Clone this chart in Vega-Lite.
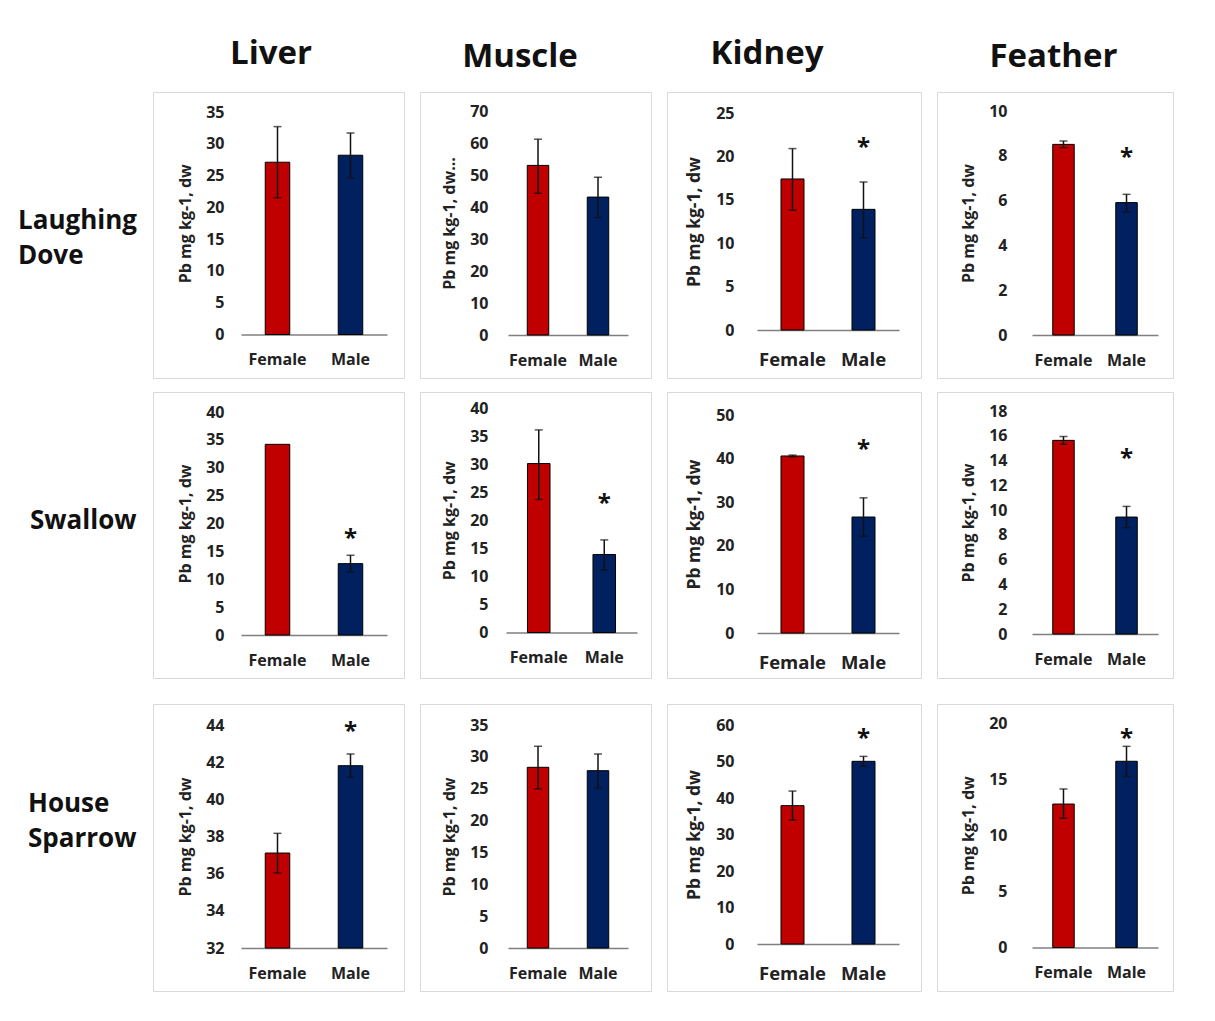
{
"$schema": "https://vega.github.io/schema/vega-lite/v6.json",
"background": "white",
"padding": {"left": 18, "top": 37, "right": 10, "bottom": 10},
"data": {"values": [
{"bird": "Laughing Dove", "tissue": "Liver", "sex": "Female", "mean": 27.1, "lo": 21.5, "hi": 32.7, "star": null},
{"bird": "Laughing Dove", "tissue": "Liver", "sex": "Male", "mean": 28.2, "lo": 24.6, "hi": 31.7, "star": null},
{"bird": "Laughing Dove", "tissue": "Muscle", "sex": "Female", "mean": 53.0, "lo": 44.3, "hi": 61.2, "star": null},
{"bird": "Laughing Dove", "tissue": "Muscle", "sex": "Male", "mean": 43.1, "lo": 36.7, "hi": 49.3, "star": null},
{"bird": "Laughing Dove", "tissue": "Kidney", "sex": "Female", "mean": 17.4, "lo": 13.8, "hi": 20.9, "star": null},
{"bird": "Laughing Dove", "tissue": "Kidney", "sex": "Male", "mean": 13.9, "lo": 10.6, "hi": 17.05, "star": 20.2},
{"bird": "Laughing Dove", "tissue": "Feather", "sex": "Female", "mean": 8.51, "lo": 8.36, "hi": 8.66, "star": null},
{"bird": "Laughing Dove", "tissue": "Feather", "sex": "Male", "mean": 5.91, "lo": 5.49, "hi": 6.28, "star": 7.59},
{"bird": "Swallow", "tissue": "Liver", "sex": "Female", "mean": 34.2, "lo": null, "hi": null, "star": null},
{"bird": "Swallow", "tissue": "Liver", "sex": "Male", "mean": 12.8, "lo": 11.3, "hi": 14.3, "star": 15.96},
{"bird": "Swallow", "tissue": "Muscle", "sex": "Female", "mean": 30.1, "lo": 23.7, "hi": 36.1, "star": null},
{"bird": "Swallow", "tissue": "Muscle", "sex": "Male", "mean": 13.9, "lo": 11.1, "hi": 16.5, "star": 21.65},
{"bird": "Swallow", "tissue": "Kidney", "sex": "Female", "mean": 40.6, "lo": 40.4, "hi": 40.8, "star": null},
{"bird": "Swallow", "tissue": "Kidney", "sex": "Male", "mean": 26.6, "lo": 22.2, "hi": 31.0, "star": 40.4},
{"bird": "Swallow", "tissue": "Feather", "sex": "Female", "mean": 15.63, "lo": 15.31, "hi": 15.95, "star": null},
{"bird": "Swallow", "tissue": "Feather", "sex": "Male", "mean": 9.44, "lo": 8.58, "hi": 10.3, "star": 13.56},
{"bird": "House Sparrow", "tissue": "Liver", "sex": "Female", "mean": 37.11, "lo": 36.04, "hi": 38.17, "star": null},
{"bird": "House Sparrow", "tissue": "Liver", "sex": "Male", "mean": 41.81, "lo": 41.19, "hi": 42.44, "star": 43.22},
{"bird": "House Sparrow", "tissue": "Muscle", "sex": "Female", "mean": 28.36, "lo": 24.96, "hi": 31.66, "star": null},
{"bird": "House Sparrow", "tissue": "Muscle", "sex": "Male", "mean": 27.83, "lo": 25.07, "hi": 30.45, "star": null},
{"bird": "House Sparrow", "tissue": "Kidney", "sex": "Female", "mean": 37.9, "lo": 33.97, "hi": 41.9, "star": null},
{"bird": "House Sparrow", "tissue": "Kidney", "sex": "Male", "mean": 50.05, "lo": 48.7, "hi": 51.4, "star": 54.25},
{"bird": "House Sparrow", "tissue": "Feather", "sex": "Female", "mean": 12.78, "lo": 11.51, "hi": 14.12, "star": null},
{"bird": "House Sparrow", "tissue": "Feather", "sex": "Male", "mean": 16.59, "lo": 15.25, "hi": 17.92, "star": 17.95}
]},
"spacing": 24,
"vconcat": [
{"spacing": 12, "vconcat": [
{"hconcat": [
{"width": 119, "height": 286, "view": {"stroke": null}, "data": {"values": [{"label": "Laughing Dove"}]},
 "mark": {"type": "text", "align": "left", "baseline": "middle", "fontSize": 26, "fontWeight": "bold", "lineBreak": " ", "lineHeight": 35, "color": "#111"},
 "encoding": {"text": {"field": "label"}, "x": {"datum": 0, "scale": {"domain": [0, 1]}, "axis": null}, "y": {"datum": 0.549, "scale": {"domain": [0, 1]}, "axis": null}}},
{"width": 251, "height": 286, "title": {"text": "Liver", "dx": -7.5},
 "transform": [{"filter": "datum.bird === 'Laughing Dove' && datum.tissue === 'Liver'"}],
 "encoding": {"x": {"field": "sex", "type": "nominal", "scale": {"domain": ["Female", "Male"], "range": [88, 234], "paddingInner": 0.664, "paddingOuter": 0.332, "round": false}, "axis": {"title": null, "offset": -43.5, "labelPadding": 17, "labelFontSize": 16}}},
 "layer": [
  {"mark": {"type": "bar", "stroke": "#000", "strokeWidth": 1}, "encoding": {"y": {"field": "mean", "type": "quantitative", "scale": {"domain": [0, 35], "range": [242.5, 20], "nice": false, "zero": false}, "axis": {"title": "Pb mg kg-1, dw", "values": [0, 5, 10, 15, 20, 25, 30, 35], "tickCount": 30, "format": "d", "offset": -75, "labelOverlap": false}}, "y2": {"datum": 0}, "color": {"field": "sex", "type": "nominal", "scale": {"domain": ["Female", "Male"], "range": ["#C00000", "#002060"]}, "legend": null}}},
  {"transform": [{"filter": "isValid(datum.lo)"}], "mark": {"type": "errorbar", "color": "#111", "thickness": 1.5, "ticks": {"size": 8}}, "encoding": {"y": {"field": "lo", "type": "quantitative", "title": "Pb mg kg-1, dw"}, "y2": {"field": "hi"}}},
  {"transform": [{"filter": "isValid(datum.star)"}], "mark": {"type": "text", "text": "*", "fontSize": 24, "fontWeight": "bold", "baseline": "alphabetic", "color": "#111"}, "encoding": {"y": {"field": "star", "type": "quantitative", "title": "Pb mg kg-1, dw"}}}
 ]},
{"width": 231, "height": 286, "title": {"text": "Muscle", "dx": -15.5, "dy": 3},
 "transform": [{"filter": "datum.bird === 'Laughing Dove' && datum.tissue === 'Muscle'"}],
 "encoding": {"x": {"field": "sex", "type": "nominal", "scale": {"domain": ["Female", "Male"], "range": [88, 208], "paddingInner": 0.642, "paddingOuter": 0.321, "round": false}, "axis": {"title": null, "offset": -43, "labelPadding": 17, "labelFontSize": 16}}},
 "layer": [
  {"mark": {"type": "bar", "stroke": "#000", "strokeWidth": 1}, "encoding": {"y": {"field": "mean", "type": "quantitative", "scale": {"domain": [0, 70], "range": [243, 19], "nice": false, "zero": false}, "axis": {"title": "Pb mg kg-1, dw...", "values": [0, 10, 20, 30, 40, 50, 60, 70], "tickCount": 30, "format": "d", "offset": -72, "labelOverlap": false}}, "y2": {"datum": 0}, "color": {"field": "sex", "type": "nominal", "scale": {"domain": ["Female", "Male"], "range": ["#C00000", "#002060"]}, "legend": null}}},
  {"transform": [{"filter": "isValid(datum.lo)"}], "mark": {"type": "errorbar", "color": "#111", "thickness": 1.5, "ticks": {"size": 8}}, "encoding": {"y": {"field": "lo", "type": "quantitative", "title": "Pb mg kg-1, dw..."}, "y2": {"field": "hi"}}},
  {"transform": [{"filter": "isValid(datum.star)"}], "mark": {"type": "text", "text": "*", "fontSize": 24, "fontWeight": "bold", "baseline": "alphabetic", "color": "#111"}, "encoding": {"y": {"field": "star", "type": "quantitative", "title": "Pb mg kg-1, dw..."}}}
 ]},
{"width": 254, "height": 286, "title": {"text": "Kidney", "dx": -27},
 "transform": [{"filter": "datum.bird === 'Laughing Dove' && datum.tissue === 'Kidney'"}],
 "encoding": {"x": {"field": "sex", "type": "nominal", "scale": {"domain": ["Female", "Male"], "range": [90, 232], "paddingInner": 0.676, "paddingOuter": 0.338, "round": false}, "axis": {"title": null, "offset": -48, "labelPadding": 20, "labelFontSize": 18.5}}},
 "layer": [
  {"mark": {"type": "bar", "stroke": "#000", "strokeWidth": 1}, "encoding": {"y": {"field": "mean", "type": "quantitative", "scale": {"domain": [0, 25], "range": [238, 21], "nice": false, "zero": false}, "axis": {"title": "Pb mg kg-1, dw", "titleFontSize": 17.5, "values": [0, 5, 10, 15, 20, 25], "tickCount": 30, "format": "d", "offset": -71, "labelOverlap": false}}, "y2": {"datum": 0}, "color": {"field": "sex", "type": "nominal", "scale": {"domain": ["Female", "Male"], "range": ["#C00000", "#002060"]}, "legend": null}}},
  {"transform": [{"filter": "isValid(datum.lo)"}], "mark": {"type": "errorbar", "color": "#111", "thickness": 1.5, "ticks": {"size": 8}}, "encoding": {"y": {"field": "lo", "type": "quantitative", "title": "Pb mg kg-1, dw"}, "y2": {"field": "hi"}}},
  {"transform": [{"filter": "isValid(datum.star)"}], "mark": {"type": "text", "text": "*", "fontSize": 24, "fontWeight": "bold", "baseline": "alphabetic", "color": "#111"}, "encoding": {"y": {"field": "star", "type": "quantitative", "title": "Pb mg kg-1, dw"}}}
 ]},
{"width": 236, "height": 286, "title": {"text": "Feather", "dx": -1.5, "dy": 3},
 "transform": [{"filter": "datum.bird === 'Laughing Dove' && datum.tissue === 'Feather'"}],
 "encoding": {"x": {"field": "sex", "type": "nominal", "scale": {"domain": ["Female", "Male"], "range": [95, 221], "paddingInner": 0.659, "paddingOuter": 0.329, "round": false}, "axis": {"title": null, "offset": -43, "labelPadding": 17, "labelFontSize": 16}}},
 "layer": [
  {"mark": {"type": "bar", "stroke": "#000", "strokeWidth": 1}, "encoding": {"y": {"field": "mean", "type": "quantitative", "scale": {"domain": [0, 10], "range": [243, 19], "nice": false, "zero": false}, "axis": {"title": "Pb mg kg-1, dw", "values": [0, 2, 4, 6, 8, 10], "tickCount": 30, "format": "d", "offset": -74, "labelOverlap": false}}, "y2": {"datum": 0}, "color": {"field": "sex", "type": "nominal", "scale": {"domain": ["Female", "Male"], "range": ["#C00000", "#002060"]}, "legend": null}}},
  {"transform": [{"filter": "isValid(datum.lo)"}], "mark": {"type": "errorbar", "color": "#111", "thickness": 1.5, "ticks": {"size": 8}}, "encoding": {"y": {"field": "lo", "type": "quantitative", "title": "Pb mg kg-1, dw"}, "y2": {"field": "hi"}}},
  {"transform": [{"filter": "isValid(datum.star)"}], "mark": {"type": "text", "text": "*", "fontSize": 24, "fontWeight": "bold", "baseline": "alphabetic", "color": "#111"}, "encoding": {"y": {"field": "star", "type": "quantitative", "title": "Pb mg kg-1, dw"}}}
 ]}
], "spacing": 16, "bounds": "flush"},
{"hconcat": [
{"width": 119, "height": 286, "view": {"stroke": null}, "data": {"values": [{"label": "Swallow"}]},
 "mark": {"type": "text", "align": "left", "baseline": "middle", "fontSize": 26, "fontWeight": "bold", "lineBreak": " ", "lineHeight": 35, "color": "#111"},
 "encoding": {"text": {"field": "label"}, "x": {"datum": 0.101, "scale": {"domain": [0, 1]}, "axis": null}, "y": {"datum": 0.549, "scale": {"domain": [0, 1]}, "axis": null}}},
{"width": 251, "height": 286,
 "transform": [{"filter": "datum.bird === 'Swallow' && datum.tissue === 'Liver'"}],
 "encoding": {"x": {"field": "sex", "type": "nominal", "scale": {"domain": ["Female", "Male"], "range": [88, 234], "paddingInner": 0.664, "paddingOuter": 0.332, "round": false}, "axis": {"title": null, "offset": -43, "labelPadding": 17, "labelFontSize": 16}}},
 "layer": [
  {"mark": {"type": "bar", "stroke": "#000", "strokeWidth": 1}, "encoding": {"y": {"field": "mean", "type": "quantitative", "scale": {"domain": [0, 40], "range": [243, 20], "nice": false, "zero": false}, "axis": {"title": "Pb mg kg-1, dw", "values": [0, 5, 10, 15, 20, 25, 30, 35, 40], "tickCount": 30, "format": "d", "offset": -75, "labelOverlap": false}}, "y2": {"datum": 0}, "color": {"field": "sex", "type": "nominal", "scale": {"domain": ["Female", "Male"], "range": ["#C00000", "#002060"]}, "legend": null}}},
  {"transform": [{"filter": "isValid(datum.lo)"}], "mark": {"type": "errorbar", "color": "#111", "thickness": 1.5, "ticks": {"size": 8}}, "encoding": {"y": {"field": "lo", "type": "quantitative", "title": "Pb mg kg-1, dw"}, "y2": {"field": "hi"}}},
  {"transform": [{"filter": "isValid(datum.star)"}], "mark": {"type": "text", "text": "*", "fontSize": 24, "fontWeight": "bold", "baseline": "alphabetic", "color": "#111"}, "encoding": {"y": {"field": "star", "type": "quantitative", "title": "Pb mg kg-1, dw"}}}
 ]},
{"width": 231, "height": 286,
 "transform": [{"filter": "datum.bird === 'Swallow' && datum.tissue === 'Muscle'"}],
 "encoding": {"x": {"field": "sex", "type": "nominal", "scale": {"domain": ["Female", "Male"], "range": [86, 217], "paddingInner": 0.656, "paddingOuter": 0.328, "round": false}, "axis": {"title": null, "offset": -45.5, "labelPadding": 17, "labelFontSize": 16}}},
 "layer": [
  {"mark": {"type": "bar", "stroke": "#000", "strokeWidth": 1}, "encoding": {"y": {"field": "mean", "type": "quantitative", "scale": {"domain": [0, 40], "range": [240.5, 16], "nice": false, "zero": false}, "axis": {"title": "Pb mg kg-1, dw", "values": [0, 5, 10, 15, 20, 25, 30, 35, 40], "tickCount": 30, "format": "d", "offset": -72, "labelOverlap": false}}, "y2": {"datum": 0}, "color": {"field": "sex", "type": "nominal", "scale": {"domain": ["Female", "Male"], "range": ["#C00000", "#002060"]}, "legend": null}}},
  {"transform": [{"filter": "isValid(datum.lo)"}], "mark": {"type": "errorbar", "color": "#111", "thickness": 1.5, "ticks": {"size": 8}}, "encoding": {"y": {"field": "lo", "type": "quantitative", "title": "Pb mg kg-1, dw"}, "y2": {"field": "hi"}}},
  {"transform": [{"filter": "isValid(datum.star)"}], "mark": {"type": "text", "text": "*", "fontSize": 24, "fontWeight": "bold", "baseline": "alphabetic", "color": "#111"}, "encoding": {"y": {"field": "star", "type": "quantitative", "title": "Pb mg kg-1, dw"}}}
 ]},
{"width": 254, "height": 286,
 "transform": [{"filter": "datum.bird === 'Swallow' && datum.tissue === 'Kidney'"}],
 "encoding": {"x": {"field": "sex", "type": "nominal", "scale": {"domain": ["Female", "Male"], "range": [90, 232], "paddingInner": 0.676, "paddingOuter": 0.338, "round": false}, "axis": {"title": null, "offset": -45, "labelPadding": 20, "labelFontSize": 18.5}}},
 "layer": [
  {"mark": {"type": "bar", "stroke": "#000", "strokeWidth": 1}, "encoding": {"y": {"field": "mean", "type": "quantitative", "scale": {"domain": [0, 50], "range": [241, 23], "nice": false, "zero": false}, "axis": {"title": "Pb mg kg-1, dw", "titleFontSize": 17.5, "values": [0, 10, 20, 30, 40, 50], "tickCount": 30, "format": "d", "offset": -71, "labelOverlap": false}}, "y2": {"datum": 0}, "color": {"field": "sex", "type": "nominal", "scale": {"domain": ["Female", "Male"], "range": ["#C00000", "#002060"]}, "legend": null}}},
  {"transform": [{"filter": "isValid(datum.lo)"}], "mark": {"type": "errorbar", "color": "#111", "thickness": 1.5, "ticks": {"size": 8}}, "encoding": {"y": {"field": "lo", "type": "quantitative", "title": "Pb mg kg-1, dw"}, "y2": {"field": "hi"}}},
  {"transform": [{"filter": "isValid(datum.star)"}], "mark": {"type": "text", "text": "*", "fontSize": 24, "fontWeight": "bold", "baseline": "alphabetic", "color": "#111"}, "encoding": {"y": {"field": "star", "type": "quantitative", "title": "Pb mg kg-1, dw"}}}
 ]},
{"width": 236, "height": 286,
 "transform": [{"filter": "datum.bird === 'Swallow' && datum.tissue === 'Feather'"}],
 "encoding": {"x": {"field": "sex", "type": "nominal", "scale": {"domain": ["Female", "Male"], "range": [95, 221], "paddingInner": 0.659, "paddingOuter": 0.329, "round": false}, "axis": {"title": null, "offset": -44, "labelPadding": 17, "labelFontSize": 16}}},
 "layer": [
  {"mark": {"type": "bar", "stroke": "#000", "strokeWidth": 1}, "encoding": {"y": {"field": "mean", "type": "quantitative", "scale": {"domain": [0, 18], "range": [242, 19], "nice": false, "zero": false}, "axis": {"title": "Pb mg kg-1, dw", "values": [0, 2, 4, 6, 8, 10, 12, 14, 16, 18], "tickCount": 30, "format": "d", "offset": -74, "labelOverlap": false}}, "y2": {"datum": 0}, "color": {"field": "sex", "type": "nominal", "scale": {"domain": ["Female", "Male"], "range": ["#C00000", "#002060"]}, "legend": null}}},
  {"transform": [{"filter": "isValid(datum.lo)"}], "mark": {"type": "errorbar", "color": "#111", "thickness": 1.5, "ticks": {"size": 8}}, "encoding": {"y": {"field": "lo", "type": "quantitative", "title": "Pb mg kg-1, dw"}, "y2": {"field": "hi"}}},
  {"transform": [{"filter": "isValid(datum.star)"}], "mark": {"type": "text", "text": "*", "fontSize": 24, "fontWeight": "bold", "baseline": "alphabetic", "color": "#111"}, "encoding": {"y": {"field": "star", "type": "quantitative", "title": "Pb mg kg-1, dw"}}}
 ]}
], "spacing": 16, "bounds": "flush"}
]},
{"hconcat": [
{"width": 119, "height": 287, "view": {"stroke": null}, "data": {"values": [{"label": "House Sparrow"}]},
 "mark": {"type": "text", "align": "left", "baseline": "middle", "fontSize": 26, "fontWeight": "bold", "lineBreak": " ", "lineHeight": 35, "color": "#111"},
 "encoding": {"text": {"field": "label"}, "x": {"datum": 0.084, "scale": {"domain": [0, 1]}, "axis": null}, "y": {"datum": 0.65, "scale": {"domain": [0, 1]}, "axis": null}}},
{"width": 251, "height": 287,
 "transform": [{"filter": "datum.bird === 'House Sparrow' && datum.tissue === 'Liver'"}],
 "encoding": {"x": {"field": "sex", "type": "nominal", "scale": {"domain": ["Female", "Male"], "range": [88, 234], "paddingInner": 0.664, "paddingOuter": 0.332, "round": false}, "axis": {"title": null, "offset": -43, "labelPadding": 17, "labelFontSize": 16}}},
 "layer": [
  {"mark": {"type": "bar", "stroke": "#000", "strokeWidth": 1}, "encoding": {"y": {"field": "mean", "type": "quantitative", "scale": {"domain": [32, 44], "range": [244, 21], "nice": false, "zero": false}, "axis": {"title": "Pb mg kg-1, dw", "values": [32, 34, 36, 38, 40, 42, 44], "tickCount": 30, "format": "d", "offset": -75, "labelOverlap": false}}, "y2": {"datum": 32}, "color": {"field": "sex", "type": "nominal", "scale": {"domain": ["Female", "Male"], "range": ["#C00000", "#002060"]}, "legend": null}}},
  {"transform": [{"filter": "isValid(datum.lo)"}], "mark": {"type": "errorbar", "color": "#111", "thickness": 1.5, "ticks": {"size": 8}}, "encoding": {"y": {"field": "lo", "type": "quantitative", "title": "Pb mg kg-1, dw"}, "y2": {"field": "hi"}}},
  {"transform": [{"filter": "isValid(datum.star)"}], "mark": {"type": "text", "text": "*", "fontSize": 24, "fontWeight": "bold", "baseline": "alphabetic", "color": "#111"}, "encoding": {"y": {"field": "star", "type": "quantitative", "title": "Pb mg kg-1, dw"}}}
 ]},
{"width": 231, "height": 287,
 "transform": [{"filter": "datum.bird === 'House Sparrow' && datum.tissue === 'Muscle'"}],
 "encoding": {"x": {"field": "sex", "type": "nominal", "scale": {"domain": ["Female", "Male"], "range": [88, 208], "paddingInner": 0.642, "paddingOuter": 0.321, "round": false}, "axis": {"title": null, "offset": -43, "labelPadding": 17, "labelFontSize": 16}}},
 "layer": [
  {"mark": {"type": "bar", "stroke": "#000", "strokeWidth": 1}, "encoding": {"y": {"field": "mean", "type": "quantitative", "scale": {"domain": [0, 35], "range": [244, 21], "nice": false, "zero": false}, "axis": {"title": "Pb mg kg-1, dw", "values": [0, 5, 10, 15, 20, 25, 30, 35], "tickCount": 30, "format": "d", "offset": -72, "labelOverlap": false}}, "y2": {"datum": 0}, "color": {"field": "sex", "type": "nominal", "scale": {"domain": ["Female", "Male"], "range": ["#C00000", "#002060"]}, "legend": null}}},
  {"transform": [{"filter": "isValid(datum.lo)"}], "mark": {"type": "errorbar", "color": "#111", "thickness": 1.5, "ticks": {"size": 8}}, "encoding": {"y": {"field": "lo", "type": "quantitative", "title": "Pb mg kg-1, dw"}, "y2": {"field": "hi"}}},
  {"transform": [{"filter": "isValid(datum.star)"}], "mark": {"type": "text", "text": "*", "fontSize": 24, "fontWeight": "bold", "baseline": "alphabetic", "color": "#111"}, "encoding": {"y": {"field": "star", "type": "quantitative", "title": "Pb mg kg-1, dw"}}}
 ]},
{"width": 254, "height": 287,
 "transform": [{"filter": "datum.bird === 'House Sparrow' && datum.tissue === 'Kidney'"}],
 "encoding": {"x": {"field": "sex", "type": "nominal", "scale": {"domain": ["Female", "Male"], "range": [90, 232], "paddingInner": 0.676, "paddingOuter": 0.338, "round": false}, "axis": {"title": null, "offset": -47, "labelPadding": 20, "labelFontSize": 18.5}}},
 "layer": [
  {"mark": {"type": "bar", "stroke": "#000", "strokeWidth": 1}, "encoding": {"y": {"field": "mean", "type": "quantitative", "scale": {"domain": [0, 60], "range": [240, 21], "nice": false, "zero": false}, "axis": {"title": "Pb mg kg-1, dw", "titleFontSize": 17.5, "values": [0, 10, 20, 30, 40, 50, 60], "tickCount": 30, "format": "d", "offset": -71, "labelOverlap": false}}, "y2": {"datum": 0}, "color": {"field": "sex", "type": "nominal", "scale": {"domain": ["Female", "Male"], "range": ["#C00000", "#002060"]}, "legend": null}}},
  {"transform": [{"filter": "isValid(datum.lo)"}], "mark": {"type": "errorbar", "color": "#111", "thickness": 1.5, "ticks": {"size": 8}}, "encoding": {"y": {"field": "lo", "type": "quantitative", "title": "Pb mg kg-1, dw"}, "y2": {"field": "hi"}}},
  {"transform": [{"filter": "isValid(datum.star)"}], "mark": {"type": "text", "text": "*", "fontSize": 24, "fontWeight": "bold", "baseline": "alphabetic", "color": "#111"}, "encoding": {"y": {"field": "star", "type": "quantitative", "title": "Pb mg kg-1, dw"}}}
 ]},
{"width": 236, "height": 287,
 "transform": [{"filter": "datum.bird === 'House Sparrow' && datum.tissue === 'Feather'"}],
 "encoding": {"x": {"field": "sex", "type": "nominal", "scale": {"domain": ["Female", "Male"], "range": [95, 221], "paddingInner": 0.659, "paddingOuter": 0.329, "round": false}, "axis": {"title": null, "offset": -43.5, "labelPadding": 17, "labelFontSize": 16}}},
 "layer": [
  {"mark": {"type": "bar", "stroke": "#000", "strokeWidth": 1}, "encoding": {"y": {"field": "mean", "type": "quantitative", "scale": {"domain": [0, 20], "range": [243.5, 19], "nice": false, "zero": false}, "axis": {"title": "Pb mg kg-1, dw", "values": [0, 5, 10, 15, 20], "tickCount": 30, "format": "d", "offset": -74, "labelOverlap": false}}, "y2": {"datum": 0}, "color": {"field": "sex", "type": "nominal", "scale": {"domain": ["Female", "Male"], "range": ["#C00000", "#002060"]}, "legend": null}}},
  {"transform": [{"filter": "isValid(datum.lo)"}], "mark": {"type": "errorbar", "color": "#111", "thickness": 1.5, "ticks": {"size": 8}}, "encoding": {"y": {"field": "lo", "type": "quantitative", "title": "Pb mg kg-1, dw"}, "y2": {"field": "hi"}}},
  {"transform": [{"filter": "isValid(datum.star)"}], "mark": {"type": "text", "text": "*", "fontSize": 24, "fontWeight": "bold", "baseline": "alphabetic", "color": "#111"}, "encoding": {"y": {"field": "star", "type": "quantitative", "title": "Pb mg kg-1, dw"}}}
 ]}
], "spacing": 16, "bounds": "flush"}
],
"config": {
 "font": "Open Sans",
 "view": {"stroke": "#d9d9d9", "strokeWidth": 1},
 "axis": {"labelFont": "Open Sans", "labelFontWeight": "bold", "labelColor": "#222", "titleFont": "Open Sans", "titleFontWeight": "bold", "titleColor": "#222", "grid": false, "ticks": false},
 "axisY": {"domain": false, "labelFontSize": 16, "titleFontSize": 16, "titlePadding": 12, "labelPadding": 4, "labelFlush": false, "labelOverlap": false},
 "axisX": {"domain": true, "domainColor": "#7f7f7f", "domainWidth": 1.5, "labelAngle": 0},
 "title": {"font": "Open Sans", "fontSize": 33, "fontWeight": "bold", "color": "#111", "offset": 21}
}
}
